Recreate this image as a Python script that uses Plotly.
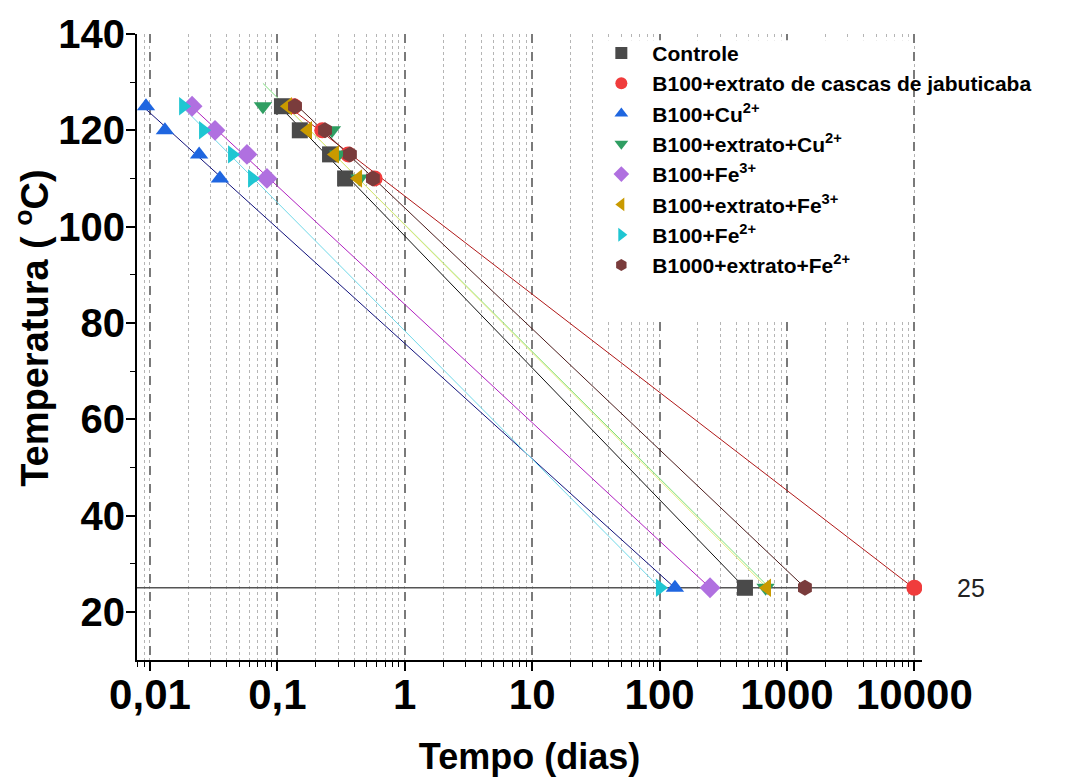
import numpy as np
import plotly.graph_objects as go

# ---- data ----
temps = [125, 120, 115, 110, 25]

controle = [0.1086, 0.150, 0.259, 0.340, 468]
b100_extrato = [0.135, 0.225, 0.36, 0.58, 10000]
b100_cu = [0.0093, 0.0131, 0.0243, 0.0354, 132]
b100_extrato_cu = [0.077, 0.268, 0.30, 0.44, 680]
b100_fe3 = [0.0214, 0.0324, 0.0577, 0.0828, 249]
b100_extrato_fe3 = [0.121, 0.174, 0.283, 0.430, 697]
b100_fe2 = [0.0182, 0.0261, 0.0441, 0.0633, 100.7]
b1000_extrato_fe2 = [0.1374, 0.2366, 0.371, 0.562, 1384]

series_names = [
    "Controle",
    "B100+extrato de cascas de jabuticaba",
    "B100+Cu<sup>2+</sup>",
    "B100+extrato+Cu<sup>2+</sup>",
    "B100+Fe<sup>3+</sup>",
    "B100+extrato+Fe<sup>3+</sup>",
    "B100+Fe<sup>2+</sup>",
    "B1000+extrato+Fe<sup>2+</sup>",
]
series_times = [controle, b100_extrato, b100_cu, b100_extrato_cu,
                b100_fe3, b100_extrato_fe3, b100_fe2, b1000_extrato_fe2]

x_tickvals = [0.01, 0.1, 1, 10, 100, 1000, 10000]
x_ticktext = ["0,01", "0,1", "1", "10", "100", "1000", "10000"]
ref_temp = 25

# ---- styles ----
marker_colors = ["#4a4a4a", "#f03c3c", "#1f66e0", "#2f9e62", "#b070e0",
                 "#c99a00", "#1fc6d2", "#7a3c3c"]
line_colors = ["#111111", "#b01818", "#10107a", "#7ce07c", "#b020c0",
               "#e8e87a", "#70d8e8", "#4a1a1a"]
symbols = ["square", "circle", "triangle-up", "triangle-down", "diamond",
           "triangle-left", "triangle-right", "hexagon"]

XMIN_LOG, XMAX_LOG = -2.102, 4.06
FONT = "Liberation Sans, Arial"

fig = go.Figure()

# reference line at 25 °C
fig.add_trace(go.Scatter(
    x=[10 ** XMIN_LOG, max(b100_extrato)], y=[ref_temp, ref_temp],
    mode="lines", line=dict(color="#555555", width=1.5),
    showlegend=False, hoverinfo="skip"))

# fitted lines (T vs log10 t)
for times, lc in zip(series_times, line_colors):
    lt = np.log10(times)
    b, a = np.polyfit(lt, temps, 1)
    xs = np.array([min(lt), max(lt)])
    fig.add_trace(go.Scatter(
        x=10 ** xs, y=a + b * xs, mode="lines",
        line=dict(color=lc, width=1), showlegend=False, hoverinfo="skip"))

# markers
for name, times, mc, sym in zip(series_names, series_times, marker_colors, symbols):
    fig.add_trace(go.Scatter(
        x=times, y=temps, mode="markers", name=name,
        marker=dict(symbol=sym, color=mc, size=16, line=dict(width=0))))

# white legend backdrop covering the grid
fig.add_shape(type="rect", xref="paper", yref="paper",
              x0=0.596, x1=0.987, y0=0.543, y1=0.99,
              fillcolor="white", line=dict(width=0), layer="above")

fig.add_annotation(text="25", xref="paper", yref="y", x=1.062, y=ref_temp,
                   showarrow=False, xanchor="center", yanchor="middle",
                   font=dict(family=FONT, size=25, color="#222222"))

# y axis title
fig.add_annotation(text="Temperatura ( <sup>o</sup>C)", xref="paper", yref="paper",
                   x=-0.133, y=0.53, textangle=-90, showarrow=False,
                   xanchor="center", yanchor="middle",
                   font=dict(family=FONT, size=38, color="black", weight="bold"))

# page body has an 8px margin: figure is drawn 8px inset
fig.update_layout(
    width=1063, height=771,
    margin=dict(l=129, r=149, t=26, b=119, autoexpand=False),
    paper_bgcolor="white", plot_bgcolor="white",
    font=dict(family=FONT, color="black"),
    legend=dict(x=0.5775, y=1.002, xanchor="left", yanchor="top",
                bgcolor="rgba(0,0,0,0)", itemwidth=52,
                font=dict(family=FONT, size=21, color="black", weight="bold"),
                itemsizing="constant"),
    xaxis=dict(
        type="log", range=[XMIN_LOG, XMAX_LOG], automargin=False,
        tickmode="array", tickvals=x_tickvals, ticktext=x_ticktext,
        showline=True, linecolor="black", linewidth=2,
        ticks="outside", ticklen=9, tickwidth=2, tickcolor="black",
        ticklabelstandoff=-12,
        showgrid=True, gridcolor="#7a7a7a", gridwidth=2, griddash="dash",
        zeroline=False,
        tickfont=dict(family=FONT, size=42, color="black", weight="bold"),
        title=dict(text="Tempo (dias)", standoff=26,
                   font=dict(family=FONT, size=36, color="black", weight="bold")),
        minor=dict(dtick="D1", ticks="outside", ticklen=5, tickwidth=1, tickcolor="black",
                   showgrid=True, gridcolor="#b5b5b5", gridwidth=1, griddash="dot"),
    ),
    yaxis=dict(
        range=[10, 140], automargin=False,
        tickmode="array", tickvals=[20, 40, 60, 80, 100, 120, 140],
        showline=True, linecolor="black", linewidth=2,
        ticks="outside", ticklen=9, tickwidth=2, tickcolor="black",
        ticklabelstandoff=-7,
        showgrid=False, zeroline=False,
        tickfont=dict(family=FONT, size=40, color="black", weight="bold"),
        minor=dict(tickvals=[30, 50, 70, 90, 110, 130], ticks="outside", ticklen=5,
                   tickwidth=1, tickcolor="black", showgrid=False),
    ),
)

fig.write_html("out.html")
